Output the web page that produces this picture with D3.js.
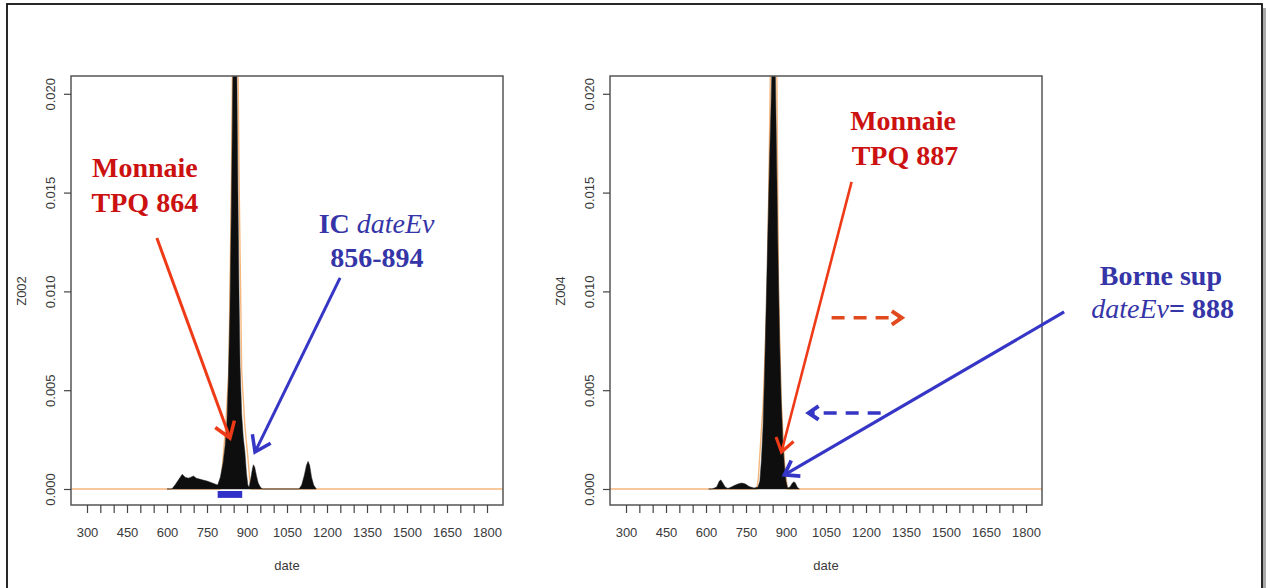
<!DOCTYPE html>
<html>
<head>
<meta charset="utf-8">
<script src="https://cdn.jsdelivr.net/npm/d3@7"></script>
<style>
  body { margin: 0; background: #fff; }
  svg { display: block; }
</style>
</head>
<body>
<script>
var W = 1266, H = 588;

// density of Z002 (left) and Z004 (right)
var dates2 = [600, 618, 630, 645, 657, 668, 680, 690, 699, 710, 722, 735, 750, 765, 780, 790, 800, 810, 818, 825,
              830, 836, 842, 847, 852, 855, 858, 862, 866, 870, 874, 880, 886, 892, 898, 903, 908, 914, 920, 924,
              929, 935, 942, 950, 958, 1095, 1105, 1115, 1123, 1129, 1135, 1142, 1150, 1160];
var z002 = [0, 0, 0.0002, 0.0005, 0.00074, 0.0006, 0.00055, 0.0006, 0.00066, 0.00055, 0.0005, 0.00045, 0.0004, 0.00033, 0.00025, 0.0002, 0.0006, 0.0013, 0.0022, 0.0035,
            0.0055, 0.009, 0.015, 0.021, 0.028, 0.030, 0.027, 0.021, 0.015, 0.010, 0.0062, 0.0038, 0.0026, 0.0019, 0.0008, 0.0002, 0.0001, 0.0005, 0.001, 0.00123,
            0.0011, 0.0007, 0.0003, 0.0001, 0, 0, 0.0002, 0.0007, 0.0012, 0.0014, 0.0012, 0.0006, 0.0002, 0];

var dates4 = [610, 623, 640, 650, 656, 663, 672, 682, 695, 710, 725, 735, 748, 762, 780, 795, 802, 808, 814, 820,
              826, 832, 838, 844, 850, 854, 858, 864, 870, 876, 882, 888, 894, 900, 906, 915, 924, 930, 935, 942, 950];
var z004 = [0, 0, 0.0001, 0.0004, 0.00046, 0.0003, 0.0001, 0.00003, 0.0001, 0.0002, 0.00028, 0.0003, 0.00025, 0.00012, 0.00005, 0.0001, 0.0004, 0.0015, 0.0032, 0.006,
            0.0095, 0.013, 0.0165, 0.0195, 0.023, 0.027, 0.023, 0.0175, 0.012, 0.0075, 0.0045, 0.0025, 0.0012, 0.0004, 0.00005, 0.0001, 0.0003, 0.00037, 0.0003, 0.0001, 0];

// orange reference curve
var orangeDates2 = [240, 798, 804, 810, 820, 832, 842, 845, 856, 867, 870, 880, 892, 904, 910, 916, 1860];
var orange2 = [0, 0, 0.0005, 0.0015, 0.0032, 0.006, 0.016, 0.0206, 0.04, 0.0206, 0.016, 0.006, 0.0032, 0.0015, 0.0005, 0, 0];
var orangeDates4 = [240, 790, 796, 815, 830, 841, 855, 866, 872, 882, 893, 905, 1860];
var orange4 = [0, 0, 0.0005, 0.0045, 0.01, 0.0206, 0.04, 0.0206, 0.01, 0.0045, 0.0015, 0, 0];

var icBar = [790, 882];

var xTicks = d3.range(300, 1801, 50);
var xLabels = [300, 450, 600, 750, 900, 1050, 1200, 1350, 1500, 1650, 1800];
var yTicks = [0, 0.005, 0.010, 0.015, 0.020];

var serif = "'Liberation Serif','Times New Roman',serif";
var sans = "'Liberation Sans',Arial,sans-serif";
var red = "#cc1111", redArrow = "#ee3a16", blue = "#3535a8", blueArrow = "#3636c6";

var svg = d3.select("body").append("svg")
    .attr("width", W)
    .attr("height", H);

svg.append("rect").attr("width", W).attr("height", H).attr("fill", "#fff");

// outer frame with shadow
svg.append("line").attr("x1", 1264.5).attr("x2", 1264.5).attr("y1", 8).attr("y2", H)
    .attr("stroke", "#aaa").attr("stroke-width", 3);
svg.append("rect").attr("x", 7).attr("y", 4).attr("width", 1255).attr("height", 600)
    .attr("fill", "none").attr("stroke", "#111").attr("stroke-width", 1.8);

function panel(ox, id, dates, vals, oDates, oVals, yName) {
    var x = d3.scaleLinear().domain([240, 1860]).range([71 + ox, 503 + ox]);
    var y = d3.scaleLinear().domain([-0.00081, 0.0209]).range([505, 76]);
    var g = svg.append("g");

    g.append("clipPath").attr("id", id)
      .append("rect")
        .attr("x", x.range()[0]).attr("y", 76)
        .attr("width", x.range()[1] - x.range()[0]).attr("height", 505 - 76);

    var inner = g.append("g").attr("clip-path", "url(#" + id + ")");

    inner.append("path")
        .datum(oVals)
        .attr("d", d3.line().x(function(d, i) { return x(oDates[i]); }).y(function(d) { return y(d); }))
        .attr("fill", "none")
        .attr("stroke", "#f6b77c")
        .attr("stroke-width", 1.4);

    inner.append("path")
        .datum(vals)
        .attr("d", d3.area()
            .x(function(d, i) { return x(dates[i]); })
            .y0(y(0))
            .y1(function(d) { return y(d); }))
        .attr("fill", "#0e0e0e")
        .attr("stroke", "#222")
        .attr("stroke-width", 0.5);

    // box
    g.append("rect")
        .attr("x", x.range()[0]).attr("y", 76)
        .attr("width", x.range()[1] - x.range()[0]).attr("height", 505 - 76)
        .attr("fill", "none").attr("stroke", "#555").attr("stroke-width", 1.5);

    var xAxis = g.append("g")
        .attr("transform", "translate(0,505)")
        .call(d3.axisBottom(x).tickValues(xTicks).tickSize(8).tickPadding(15)
            .tickFormat(function(d) { return xLabels.indexOf(d) >= 0 ? d : ""; }));
    xAxis.select(".domain").remove();
    xAxis.selectAll("line").attr("stroke", "#444").attr("stroke-width", 1.2);
    xAxis.selectAll("text").attr("font-family", sans).attr("font-size", 13).attr("fill", "#3a3a3a");

    var yAxis = g.append("g")
        .attr("transform", "translate(" + x.range()[0] + ",0)")
        .call(d3.axisLeft(y).tickValues(yTicks).tickSize(7).tickFormat(d3.format(".3f")));
    yAxis.select(".domain").remove();
    yAxis.selectAll("line").attr("stroke", "#444").attr("stroke-width", 1.2);
    yAxis.selectAll("text")
        .attr("x", null).attr("dy", null)
        .attr("text-anchor", "middle")
        .attr("transform", "translate(-16,0) rotate(-90)")
        .attr("font-family", sans).attr("font-size", 13).attr("fill", "#3a3a3a");

    g.append("text")
        .attr("x", (x(300) + x(1800)) / 2).attr("y", 570)
        .attr("text-anchor", "middle")
        .attr("font-family", sans).attr("font-size", 13).attr("fill", "#3a3a3a")
        .text("date");

    g.append("text")
        .attr("transform", "translate(" + (x.range()[0] - 45) + ",291) rotate(-90)")
        .attr("text-anchor", "middle")
        .attr("font-family", sans).attr("font-size", 13).attr("fill", "#3a3a3a")
        .text(yName);

    return {g: g, x: x, y: y};
}

function arrow(p, from, to, color, w, head, dash) {
    var x1 = p.x(from[0]), y1 = p.y(from[1]), x2 = p.x(to[0]), y2 = p.y(to[1]);
    var a = Math.atan2(y2 - y1, x2 - x1), s = 0.6;
    p.g.append("line")
        .attr("x1", x1).attr("y1", y1).attr("x2", x2).attr("y2", y2)
        .attr("stroke", color).attr("stroke-width", w)
        .attr("stroke-dasharray", dash || null);
    var pts = [[x2 - head * Math.cos(a - s), y2 - head * Math.sin(a - s)], [x2, y2],
               [x2 - head * Math.cos(a + s), y2 - head * Math.sin(a + s)]];
    p.g.append("path").attr("d", d3.line()(pts))
        .attr("fill", "none").attr("stroke", color).attr("stroke-width", w + 0.5)
        .attr("stroke-linejoin", "miter");
}

function label(p, at, color, parts) {
    var t = p.g.append("text")
        .attr("x", p.x(at[0])).attr("y", p.y(at[1]))
        .attr("text-anchor", "middle")
        .attr("font-family", serif).attr("font-size", 28).attr("fill", color);
    parts.forEach(function(s) {
        t.append("tspan")
            .attr("font-weight", s[1] ? "normal" : "bold")
            .attr("font-style", s[1] ? "italic" : "normal")
            .text(s[0]);
    });
}

var left = panel(0, "clipL", dates2, z002, orangeDates2, orange2, "Z002");

left.g.append("rect")
    .attr("x", left.x(icBar[0])).attr("y", left.y(-0.0001))
    .attr("width", left.x(icBar[1]) - left.x(icBar[0]))
    .attr("height", left.y(-0.00045) - left.y(-0.0001))
    .attr("fill", "#3030c8");

label(left, [517, 0.0158], red, [["Monnaie"]]);
label(left, [517, 0.01403], red, [["TPQ 864"]]);
label(left, [1386, 0.01296], blue, [["IC "], ["dateEv", 1]]);
label(left, [1387, 0.01124], blue, [["856-894"]]);
arrow(left, [562, 0.0127], [836, 0.00258], redArrow, 3, 18);
arrow(left, [1249, 0.01068], [930, 0.00187], blueArrow, 3, 18);

var right = panel(539, "clipR", dates4, z004, orangeDates4, orange4, "Z004");

label(right, [1339, 0.01818], red, [["Monnaie"]]);
label(right, [1346, 0.0164], red, [["TPQ 887"]]);
label(right, [2306, 0.01033], blue, [["Borne sup"]]);
label(right, [2312, 0.00866], blue, [["dateEv", 1], ["= 888"]]);
arrow(right, [1146, 0.01554], [883, 0.00187], redArrow, 2.6, 16);
arrow(right, [1943, 0.00896], [894, 0.00071], blueArrow, 3.2, 16);
arrow(right, [1071, 0.00866], [1334, 0.00866], "#e04a1e", 3.5, 12, "13,9");
arrow(right, [1255, 0.00385], [985, 0.00385], blueArrow, 3.5, 12, "13,9");
</script>
</body>
</html>
